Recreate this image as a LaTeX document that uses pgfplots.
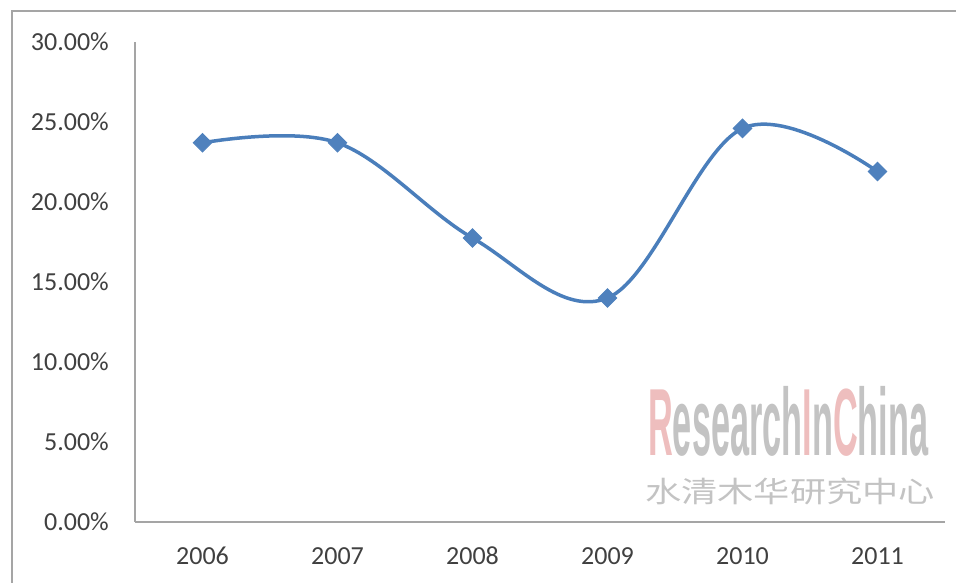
\documentclass[border=0pt]{standalone}
\usepackage{pgfplots}
\pgfplotsset{compat=1.18}
\usepackage{fontspec}
\setmainfont{Carlito}
\newfontfamily\cjk{Noto Sans CJK SC}
\newfontfamily\wm{Liberation Sans}
\definecolor{lineblue}{HTML}{4A7EBB}
\definecolor{markblue}{HTML}{4F81BD}
\definecolor{axgray}{RGB}{165,165,165}
\definecolor{txtgray}{RGB}{64,64,64}
\definecolor{wmpink}{RGB}{238,190,190}
\definecolor{wmgray}{RGB}{195,195,195}
\pgfplotstableread{
x y
0 23.7
1 23.7
2 17.75
3 14.0
4 24.6
5 21.9
}\datatable
\begin{document}
\begin{tikzpicture}[x=1pt,y=1pt]
\useasboundingbox (0,0) rectangle (956,583);
\draw[axgray, line width=1.5pt] (12,0) -- (12,572) -- (956,572);
\begin{axis}[at={(135pt,61pt)}, anchor=south west, scale only axis,
 width=810pt, height=480pt,
 xmin=-0.5, xmax=5.5, ymin=0, ymax=30,
 axis x line*=bottom, axis y line*=left,
 axis line style={axgray, line width=1.3pt},
 major tick length=0pt,
 xtick={0,1,2,3,4,5}, xticklabels={2006,2007,2008,2009,2010,2011},
 ytick={0,5,10,15,20,25,30},
 yticklabels={0.00\%,5.00\%,10.00\%,15.00\%,20.00\%,25.00\%,30.00\%},
 ticklabel style={font=\fontsize{26}{30}\selectfont, text=txtgray, inner sep=0pt},
 yticklabel style={anchor=east, xshift=-26pt},
 xticklabel style={anchor=north, yshift=-25pt},
 clip=false,
]
\addplot[lineblue, line width=3.5pt, smooth, tension=0.6,
  mark=square*, mark size=6.5pt,
  mark options={rotate=45, fill=markblue, draw=markblue, line width=1pt, solid}]
  table[x=x,y=y] {\datatable};
\end{axis}
\node[anchor=south west, inner sep=0pt] at (648,126)
 {\resizebox*{280pt}{70pt}{\wm\bfseries\color{wmgray}\textcolor{wmpink}{R}esearch\textcolor{wmpink}{I}n\textcolor{wmpink}{C}hina}};
\node[anchor=south west, inner sep=0pt] at (645,78)
 {\resizebox*{290pt}{27pt}{\cjk\color{wmgray}水清木华研究中心}};
\end{tikzpicture}
\end{document}
